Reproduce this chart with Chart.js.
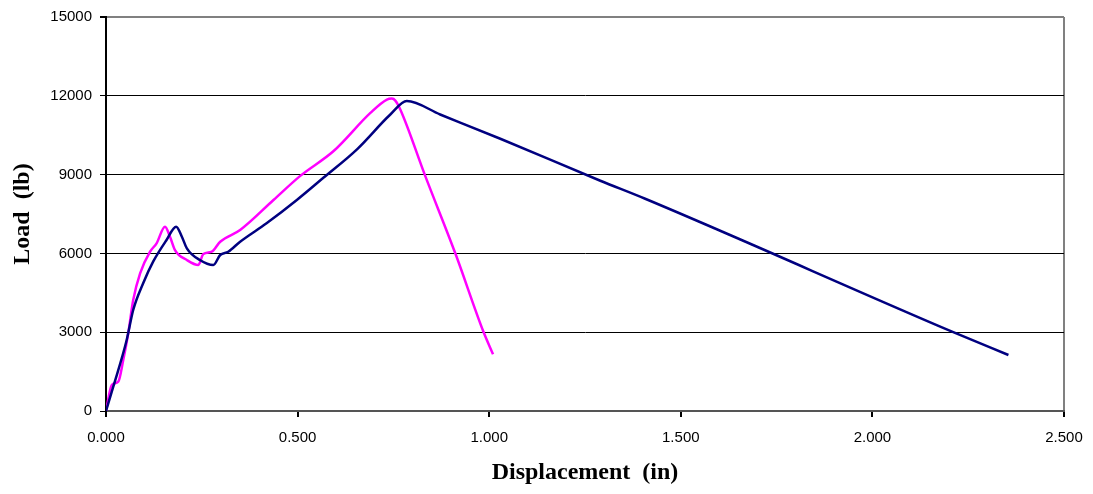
<!DOCTYPE html>
<html>
<head>
<meta charset="utf-8">
<script src="https://cdn.jsdelivr.net/npm/chart.js@4/dist/chart.umd.min.js"></script>
<style>
  html, body { margin: 0; padding: 0; background: #fff; }
  #chart { display: block; }
</style>
</head>
<body>
<canvas id="chart" width="1093" height="494"></canvas>
<script>
// specimen 1 (navy)
const navyX = [0, 0.019, 0.054, 0.071, 0.097, 0.123, 0.158, 0.183, 0.198, 0.211, 0.245, 0.280, 0.298, 0.319, 0.350, 0.419, 0.498, 0.568, 0.655, 0.742, 0.785, 0.872, 1.029, 1.290, 1.407, 2.211, 2.355];
const navyY = [0, 925, 2703, 3845, 4862, 5684, 6510, 7016, 6636, 6194, 5749, 5558, 5939, 6065, 6445, 7146, 8033, 8887, 9963, 11288, 11800, 11288, 10364, 8766, 8080, 3004, 2133];

// specimen 2 (magenta)
const pinkX = [0, 0.015, 0.032, 0.045, 0.058, 0.071, 0.089, 0.115, 0.132, 0.154, 0.167, 0.180, 0.211, 0.241, 0.254, 0.276, 0.298, 0.350, 0.437, 0.507, 0.594, 0.690, 0.733, 0.746, 0.755, 0.768, 0.833, 0.912, 0.985, 1.010];
const pinkY = [0, 990, 1115, 1942, 2958, 4226, 5242, 6065, 6385, 7016, 6636, 6129, 5749, 5558, 5977, 6065, 6445, 6891, 8033, 8951, 9898, 11349, 11856, 11894, 11818, 11478, 8951, 5985, 3015, 2159];

const xTicks = [0, 0.5, 1, 1.5, 2, 2.5];
const yTicks = [0, 3000, 6000, 9000, 12000, 15000];

const toPoints = (xs, ys) => xs.map((x, i) => ({ x: x, y: ys[i] }));

const tickFont = { family: 'Liberation Sans, Arial, sans-serif', size: 15 };
const titleFont = { family: 'Liberation Serif, Times New Roman, serif', size: 24, weight: 'bold' };

new Chart(document.getElementById('chart'), {
  type: 'scatter',
  data: {
    datasets: [
      {
        label: 'Specimen 1',
        data: toPoints(navyX, navyY),
        showLine: true,
        borderColor: '#000080',
        borderWidth: 2.5,
        pointRadius: 0,
        cubicInterpolationMode: 'monotone',
      },
      {
        label: 'Specimen 2',
        data: toPoints(pinkX, pinkY),
        showLine: true,
        borderColor: '#FF00FF',
        borderWidth: 2.5,
        pointRadius: 0,
        cubicInterpolationMode: 'monotone',
      },
    ],
  },
  options: {
    responsive: false,
    animation: false,
    layout: { padding: { top: 15, right: 29, left: 0, bottom: 3 } },
    plugins: {
      legend: { display: false },
      tooltip: { enabled: false },
    },
    scales: {
      x: {
        type: 'linear',
        min: 0,
        max: 2.5,
        afterBuildTicks: (s) => { s.ticks = xTicks.map((v) => ({ value: v })); },
        afterFit: (s) => { s.height = 80; s.paddingRight = 0; s.paddingLeft = 0; },
        ticks: {
          color: '#000',
          font: tickFont,
          padding: 12,
          maxRotation: 0,
          callback: (v) => Number(v).toFixed(3),
        },
        grid: {
          color: (c) => (c.tick && c.tick.value === 2.5 ? '#808080' : 'rgba(0,0,0,0)'),
          tickColor: '#000',
          tickLength: 6,
          lineWidth: 2,
        },
        border: { color: '#555', width: 2 },
        title: {
          display: true,
          text: 'Displacement  (in)',
          color: '#000',
          font: titleFont,
          padding: { top: 8 },
        },
      },
      y: {
        min: 0,
        max: 15000,
        afterBuildTicks: (s) => { s.ticks = yTicks.map((v) => ({ value: v })); },
        afterFit: (s) => { s.width = 106; },
        ticks: {
          color: '#000',
          font: tickFont,
          padding: 8,
          callback: (v) => String(v),
        },
        grid: {
          color: (c) => (c.tick && c.tick.value === 15000 ? '#808080' : c.tick && c.tick.value === 0 ? 'rgba(0,0,0,0)' : '#000'),
          tickColor: '#000',
          tickLength: 6,
          lineWidth: (c) => (c.tick && c.tick.value === 15000 ? 2 : 1),
        },
        border: { color: '#000', width: 2 },
        title: {
          display: true,
          text: 'Load  (lb)',
          color: '#000',
          font: titleFont,
          padding: { top: 8 },
        },
      },
    },
  },
});
</script>
</body>
</html>
